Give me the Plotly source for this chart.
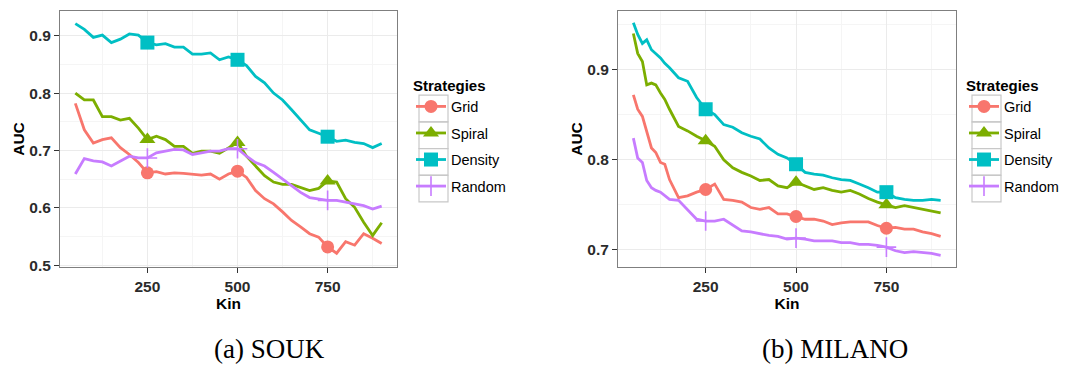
import plotly.graph_objects as go

# ---- data ----
strategies = ["Grid", "Spiral", "Density", "Random"]
marker_kin = [250, 500, 750]

kin_souk = [50, 75, 100, 125, 150, 175, 200, 225, 250, 275, 300, 325, 350, 375,
            400, 425, 450, 475, 500, 525, 550, 575, 600, 625, 650, 675, 700, 725,
            750, 775, 800, 825, 850, 875, 900]
souk_grid = [0.782, 0.736, 0.713, 0.719, 0.722, 0.705, 0.693, 0.679, 0.661, 0.663,
             0.659, 0.661, 0.660, 0.659, 0.657, 0.659, 0.650, 0.659, 0.664, 0.653,
             0.630, 0.616, 0.607, 0.593, 0.578, 0.567, 0.555, 0.549, 0.532, 0.521,
             0.541, 0.535, 0.555, 0.547, 0.538]
souk_spiral = [0.800, 0.788, 0.788, 0.759, 0.759, 0.753, 0.756, 0.739, 0.719, 0.725,
               0.719, 0.707, 0.707, 0.695, 0.699, 0.699, 0.695, 0.705, 0.714, 0.690,
               0.673, 0.656, 0.645, 0.641, 0.641, 0.636, 0.630, 0.634, 0.647, 0.645,
               0.616, 0.601, 0.575, 0.552, 0.574]
souk_density = [0.921, 0.911, 0.897, 0.901, 0.888, 0.894, 0.903, 0.901, 0.888, 0.884,
                0.886, 0.880, 0.880, 0.868, 0.868, 0.870, 0.858, 0.863, 0.858, 0.848,
                0.829, 0.818, 0.800, 0.788, 0.771, 0.754, 0.736, 0.730, 0.724, 0.716,
                0.718, 0.714, 0.712, 0.705, 0.712]
souk_random = [0.659, 0.686, 0.682, 0.680, 0.673, 0.682, 0.690, 0.687, 0.687, 0.696,
               0.699, 0.702, 0.701, 0.693, 0.696, 0.699, 0.699, 0.703, 0.703, 0.690,
               0.679, 0.673, 0.662, 0.650, 0.638, 0.627, 0.618, 0.616, 0.613, 0.613,
               0.610, 0.607, 0.604, 0.598, 0.603]

kin_milano = [50, 62, 75, 87, 100, 112, 125, 137, 150, 175, 200, 225, 250, 275, 300,
              325, 350, 375, 400, 425, 450, 475, 500, 525, 550, 575, 600, 625, 650,
              675, 700, 725, 750, 775, 800, 825, 850, 875, 900]
milano_grid = [0.872, 0.856, 0.848, 0.830, 0.813, 0.808, 0.797, 0.795, 0.778, 0.758,
               0.760, 0.764, 0.767, 0.773, 0.756, 0.755, 0.753, 0.747, 0.745, 0.747,
               0.740, 0.740, 0.737, 0.734, 0.734, 0.732, 0.728, 0.730, 0.731, 0.731,
               0.731, 0.727, 0.724, 0.725, 0.723, 0.723, 0.720, 0.718, 0.715]
milano_spiral = [0.940, 0.918, 0.909, 0.883, 0.885, 0.883, 0.874, 0.867, 0.856, 0.837,
                 0.832, 0.826, 0.821, 0.815, 0.800, 0.791, 0.786, 0.782, 0.777, 0.778,
                 0.771, 0.769, 0.775, 0.771, 0.767, 0.769, 0.766, 0.764, 0.766, 0.762,
                 0.757, 0.753, 0.750, 0.747, 0.749, 0.747, 0.745, 0.743, 0.741]
milano_density = [0.952, 0.939, 0.929, 0.933, 0.922, 0.918, 0.913, 0.907, 0.902, 0.891,
                  0.887, 0.869, 0.856, 0.850, 0.839, 0.836, 0.830, 0.826, 0.823, 0.813,
                  0.806, 0.802, 0.795, 0.786, 0.784, 0.783, 0.780, 0.778, 0.777, 0.773,
                  0.769, 0.764, 0.764, 0.758, 0.756, 0.755, 0.755, 0.756, 0.755]
milano_random = [0.824, 0.802, 0.797, 0.777, 0.769, 0.766, 0.764, 0.760, 0.756, 0.755,
                 0.745, 0.734, 0.732, 0.732, 0.734, 0.727, 0.721, 0.720, 0.718, 0.716,
                 0.715, 0.712, 0.713, 0.712, 0.710, 0.710, 0.710, 0.708, 0.708, 0.706,
                 0.706, 0.705, 0.703, 0.699, 0.697, 0.698, 0.697, 0.696, 0.694]

captions = ["(a) SOUK", "(b) MILANO"]

# ---- style ----
# the page body adds an 8px margin, so the figure is drawn 8px in from the window corner
PAD = 8
W, H = 1069 - PAD, 368 - PAD


def fx(px):
    return (px - PAD) / W


def fy(py):
    return 1 - (py - PAD) / H


colors = {"Grid": "#F8766D", "Spiral": "#7CAE00", "Density": "#00BFC4", "Random": "#C77CFF"}
symbols = {"Grid": "circle", "Spiral": "triangle-up", "Density": "square", "Random": "cross-thin"}
msize = {"Grid": 13, "Spiral": 14, "Density": 14, "Random": 14}
SANS = "Liberation Sans"

panels = [
    dict(kin=kin_souk, series=[souk_grid, souk_spiral, souk_density, souk_random],
         xa="x", ya="y", legend="legend", px=(60, 397), yr=[0.497, 0.943], tick0=0.5,
         leg_x=411),
    dict(kin=kin_milano, series=[milano_grid, milano_spiral, milano_density, milano_random],
         xa="x2", ya="y2", legend="legend2", px=(618, 956), yr=[0.681, 0.965], tick0=0.7,
         leg_x=964),
]

fig = go.Figure()

for p in panels:
    for name, vals in zip(strategies, p["series"]):
        c = colors[name]
        fig.add_trace(go.Scatter(
            x=p["kin"], y=vals, mode="lines", xaxis=p["xa"], yaxis=p["ya"],
            line=dict(color=c, width=2.8), showlegend=False, hoverinfo="x+y"
        ))
        my = [vals[p["kin"].index(k)] for k in marker_kin]
        mk = dict(size=msize[name], symbol=symbols[name], color=c)
        if name == "Random":
            mk["line"] = dict(color=c, width=1.6)
        fig.add_trace(go.Scatter(
            x=marker_kin, y=my, mode="markers", xaxis=p["xa"], yaxis=p["ya"],
            marker=mk, showlegend=False, hoverinfo="x+y"
        ))
        # legend-only entry (line + marker)
        fig.add_trace(go.Scatter(
            x=[None], y=[None], mode="lines+markers", name=name,
            xaxis=p["xa"], yaxis=p["ya"], legend=p["legend"], legendgroup=p["legend"] + name,
            line=dict(color=c, width=2.8), marker=mk, showlegend=True
        ))

axis_common = dict(
    showline=True, mirror=True, linecolor="#7f7f7f", linewidth=1,
    ticks="outside", ticklen=5, tickwidth=1, tickcolor="#333333",
    tickfont=dict(family=SANS, size=15.5, color="#2b2b2b", weight="bold"),
    showgrid=True, gridcolor="#ebebeb", gridwidth=1.3, zeroline=False, automargin=False,
)

layout_axes = {}
for i, p in enumerate(panels):
    sfx = "" if i == 0 else str(i + 1)
    x0, x1 = p["px"]
    layout_axes["xaxis" + sfx] = dict(
        axis_common, domain=[fx(x0), fx(x1)], range=[7.5, 942.5],
        tickmode="linear", tick0=0, dtick=250, anchor="y" + sfx,
        minor=dict(dtick=125, showgrid=True, gridcolor="#f5f5f5", gridwidth=0.8),
        title=dict(text="Kin", standoff=0, font=dict(family=SANS, size=15.5, color="black", weight="bold")),
    )
    layout_axes["yaxis" + sfx] = dict(
        axis_common, domain=[fy(267), fy(11)], range=p["yr"],
        tickmode="linear", tick0=p["tick0"], dtick=0.1, tickformat=".1f", anchor="x" + sfx,
        minor=dict(dtick=0.05, tick0=p["tick0"], showgrid=True, gridcolor="#f5f5f5", gridwidth=0.8),
        title=dict(text="AUC", standoff=0, font=dict(family=SANS, size=15.5, color="black", weight="bold")),
    )

# legend key boxes (ggplot style)
shapes = []
for p in panels:
    bx = p["leg_x"] + 8
    for k in range(len(strategies)):
        yc = 108.5 + 26.7 * k
        shapes.append(dict(type="rect", xref="paper", yref="paper",
                           x0=fx(bx), x1=fx(bx + 29),
                           y0=fy(yc - 13.3), y1=fy(yc + 13.3),
                           line=dict(color="#c8c8c8", width=1.2),
                           fillcolor="rgba(255,255,255,0)", layer="above"))

legend_common = dict(
    xanchor="left", yanchor="top", bgcolor="rgba(0,0,0,0)", borderwidth=0,
    font=dict(family=SANS, size=14.5, color="black"), tracegroupgap=4.7,
    title=dict(text="Strategies", font=dict(family=SANS, size=15, color="black", weight="bold")),
)

annotations = []
for cap, cx in zip(captions, [269.5, 835]):
    annotations.append(dict(text=cap, x=fx(cx), y=fy(349), xref="paper", yref="paper",
                            showarrow=False, xanchor="center", yanchor="middle",
                            font=dict(family="Liberation Serif", size=27, color="black")))

fig.update_layout(
    width=W, height=H,
    margin=dict(l=0, r=0, t=0, b=0),
    paper_bgcolor="white", plot_bgcolor="white",
    legend=dict(legend_common, x=fx(panels[0]["leg_x"]), y=fy(71)),
    legend2=dict(legend_common, x=fx(panels[1]["leg_x"]), y=fy(71)),
    shapes=shapes, annotations=annotations,
    **layout_axes,
)

fig.write_html("out.html")
